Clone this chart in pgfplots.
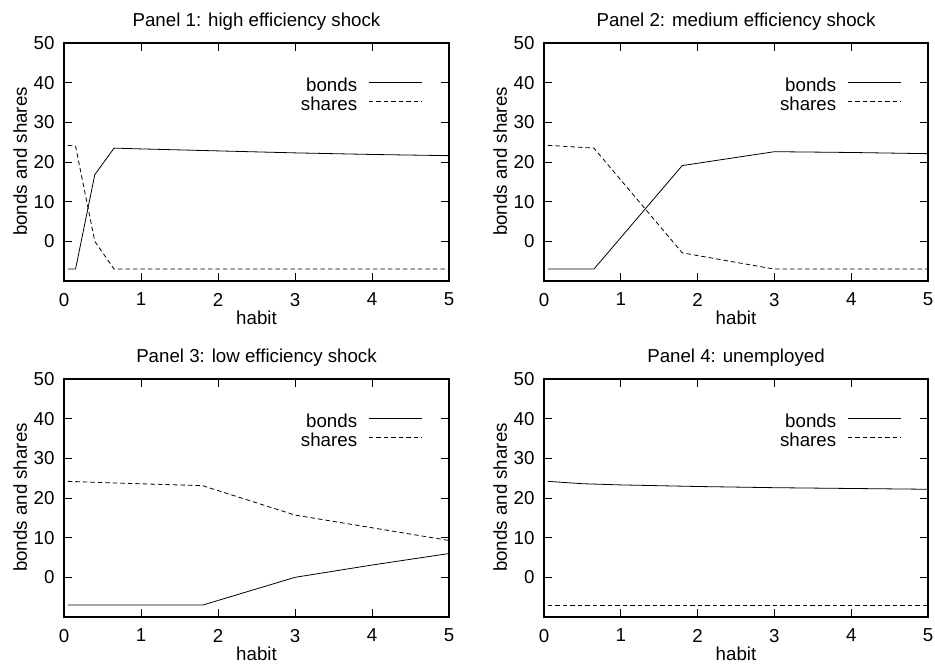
\documentclass[border=0pt]{standalone}
\usepackage{fontspec}
\setmainfont{Liberation Sans}
\usepackage{pgfplots}
\pgfplotsset{compat=1.18}

\pgfplotsset{
  panel/.style={
    scale only axis,
    width=385pt, height=238pt,
    xmin=0, xmax=5, ymin=-10, ymax=50,
    xtick={0,1,...,5}, ytick={0,10,...,50},
    tick align=inside,
    major tick length=8pt,
    tick style={line width=0.8pt, black},
    axis line style={line width=1.3pt},
    /pgf/number format/assume math mode=true,
    xticklabel style={yshift=-8.5pt},
    yticklabel style={xshift=-6pt},
    xlabel={habit}, ylabel={bonds and shares},
    xlabel style={at={(axis description cs:0.5,-0.153)}, anchor=center},
    ylabel style={at={(axis description cs:-0.114,0.502)}, anchor=center, rotate=0},
    title style={at={(axis description cs:0.5,1.046)}, anchor=base},
    legend style={draw=none, fill=none, at={(rel axis cs:0.938,0.862)},
      anchor=north east, nodes={inner sep=0pt}, row sep=4pt, column sep=11pt},
    legend cell align=right,
    legend plot pos=right,
    legend image code/.code={\draw[#1] (0pt,0.35em) -- (53pt,0.35em);},
  },
  bonds/.style={black, line width=0.8pt},
  shares/.style={black, line width=0.8pt, dash pattern=on 4.5pt off 3pt},
}

\begin{document}
\begin{tikzpicture}[font=\fontsize{18.7}{22}\selectfont]
\path[use as bounding box] (0pt,0pt) rectangle (935pt,664pt);

\begin{axis}[panel, at={(64pt,383pt)}, anchor=south west,
  title={Panel 1: high efficiency shock}]
\addplot[bonds] coordinates {(0.05,-7) (0.15,-7) (0.4,16.8) (0.65,23.5) (1,23.3) (2,22.8) (3,22.3) (4,21.9) (5,21.6)};
\addlegendentry{bonds}
\addplot[shares] coordinates {(0.05,24.2) (0.15,24) (0.4,0) (0.65,-7) (1,-7) (2,-7) (3,-7) (4,-7) (5,-7)};
\addlegendentry{shares}
\end{axis}

\begin{axis}[panel, at={(544pt,383pt)}, anchor=south west, width=384pt,
  title={Panel 2: medium efficiency shock}]
\addplot[bonds] coordinates {(0.05,-7) (0.15,-7) (0.4,-7) (0.65,-7) (1.8,19.1) (3,22.6) (4,22.4) (5,22.1)};
\addlegendentry{bonds}
\addplot[shares] coordinates {(0.05,24.2) (0.65,23.5) (1.8,-2.9) (3,-7) (4,-7) (5,-7)};
\addlegendentry{shares}
\end{axis}

\begin{axis}[panel, at={(64pt,47pt)}, anchor=south west,
  title={Panel 3: low efficiency shock}]
\addplot[bonds] coordinates {(0.05,-7) (0.65,-7) (1.8,-7) (3,0) (4,3.1) (5,6)};
\addlegendentry{bonds}
\addplot[shares] coordinates {(0.05,24.2) (0.65,23.8) (1.8,23.1) (3,15.7) (4,12.5) (5,9.3)};
\addlegendentry{shares}
\end{axis}

\begin{axis}[panel, at={(544pt,47pt)}, anchor=south west, width=384pt,
  title={Panel 4: unemployed}]
\addplot[bonds] coordinates {(0.05,24.2) (0.5,23.6) (1,23.3) (2,22.9) (3,22.6) (4,22.4) (5,22.2)};
\addlegendentry{bonds}
\addplot[shares] coordinates {(0.05,-7) (1,-7) (2,-7) (3,-7) (4,-7) (5,-7)};
\addlegendentry{shares}
\end{axis}
\end{tikzpicture}
\end{document}
